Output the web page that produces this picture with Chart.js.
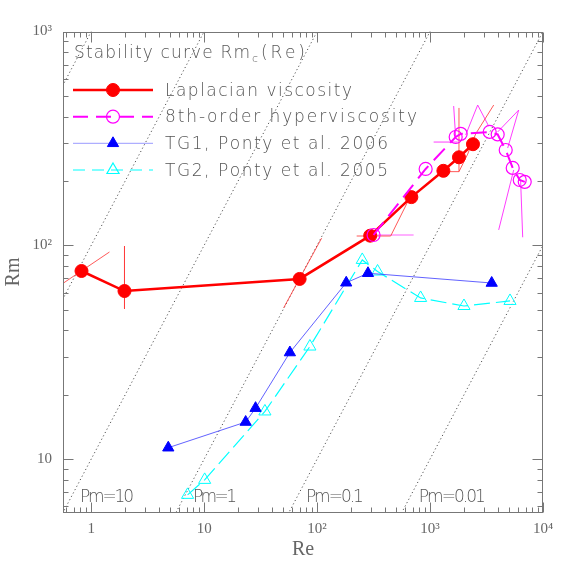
<!DOCTYPE html>
<html><head><meta charset="utf-8">
<script src="https://cdn.jsdelivr.net/npm/chart.js@4.4.1/dist/chart.umd.min.js"></script>
<style>html,body{margin:0;padding:0;background:#fff}#wrap{width:574px;height:574px}</style>
</head><body><div id="wrap"><canvas id="c" width="574" height="574"></canvas></div>
<script>
// ---- data ----
const lapRe = [0.82, 1.97, 70, 295, 683, 1312, 1803, 2399];
const lapRm = [75.8, 61.1, 69.6, 110.9, 168, 223, 258, 297];

const hypRe = [316, 914, 1686, 1867, 3373, 3969, 4676, 5393, 6222, 6890];
const hypRm = [111.7, 227.5, 321, 332, 339, 330, 279, 230, 202, 198];

const tg1Re = [4.81, 23.3, 28.5, 57.4, 181, 282, 3513];
const tg1Rm = [11.3, 14.9, 17.3, 31.5, 66.8, 74, 66.6];

const tg2Re = [7.13, 10.1, 34.5, 86.3, 251, 343, 825, 1997, 5103];
const tg2Rm = [6.8, 7.99, 16.7, 33.6, 85.4, 75.4, 56.7, 52, 54.9];

// error / uncertainty strokes (Re, Rm paths)
const lapErrRe = [[0.568, 1.45], [1.97, 1.97], [50.5, 109.6], [224, 448, 646], [1312, 1803, 2153, 2535, 3661], [1803, 1803]];
const lapErrRm = [[66.6, 93.0], [99.2, 50.4], [50.9, 108], [110.5, 110.5, 163], [221, 221, 267, 332, 453], [221, 439]];
const hypErrRe = [[1618, 1685], [1076, 1756], [2067, 2640, 3304], [6093, 3969], [6093, 4868], [4051, 5502], [6610, 6334]];
const hypErrRm = [[448, 321], [304, 304], [328, 453, 361], [429, 339], [429, 285], [118, 225], [109, 202]];
const hypBarRe = [316.5, 715];
const hypBarRm = [111.7, 111.7];

const pmValues = [1000, 100, 10, 1, 0.1, 0.01];
const pmLabelValues = [10, 1, 0.1, 0.01];
const pmLabelTexts = ['Pm=10', 'Pm=1', 'Pm=0.1', 'Pm=0.01'];

const xTickValues = [1, 10, 100, 1000, 10000];
const xTickLabels = ['1', '10', '10²', '10³', '10⁴'];
const yTickValues = [10, 100, 1000];
const yTickLabels = ['10', '10²', '10³'];

const seriesNames = ['Laplacian viscosity', '8th-order hyperviscosity', 'TG1, Ponty et al. 2006', 'TG2, Ponty et al. 2005'];
const titleMain = 'Stability curve Rm';
const titleSub = 'c';
const titleTail = '(Re)';

const X_MIN = Math.pow(10, -0.25), X_MAX = 1e4;
const Y_MIN = Math.pow(10, 0.75), Y_MAX = 1e3;

// ---- build datasets ----
const pts = (xs, ys) => xs.map((v, i) => ({x: v, y: ys[i]}));
const datasets = [];

pmValues.forEach(pm => {
  datasets.push({data: [{x: 0.01, y: pm * 0.01}, {x: 1e5, y: pm * 1e5}], showLine: true,
    borderColor: '#555', borderWidth: 1, borderDash: [1.2, 2.6], pointRadius: 0, order: 10});
});
lapErrRe.forEach((xs, i) => datasets.push({data: pts(xs, lapErrRm[i]), showLine: true,
  borderColor: 'rgba(255,60,60,0.85)', borderWidth: 1, pointRadius: 0, order: 8}));
hypErrRe.forEach((xs, i) => datasets.push({data: pts(xs, hypErrRm[i]), showLine: true,
  borderColor: 'rgba(255,40,255,0.9)', borderWidth: 1, pointRadius: 0, order: 8}));
datasets.push({data: pts(hypBarRe, hypBarRm), showLine: true, borderColor: '#ffb0ff', borderWidth: 2, pointRadius: 0, order: 9});

datasets.push({label: seriesNames[3], data: pts(tg2Re, tg2Rm), showLine: true, borderColor: '#00ffff', borderWidth: 1.2,
  borderDash: [16, 6], pointStyle: 'triangle', pointRadius: 7, pointBackgroundColor: 'rgba(0,0,0,0)',
  pointBorderColor: '#00ffff', pointBorderWidth: 1, order: 5});
datasets.push({label: seriesNames[2], data: pts(tg1Re, tg1Rm), showLine: true, borderColor: 'rgba(70,70,255,0.85)', borderWidth: 1,
  pointStyle: 'triangle', pointRadius: 6.5, pointBackgroundColor: '#0000ff', pointBorderColor: '#0000ff', pointBorderWidth: 1, order: 4});
datasets.push({label: seriesNames[0], data: pts(lapRe, lapRm), showLine: true, borderColor: '#ff0000', borderWidth: 2.5,
  pointStyle: 'circle', pointRadius: 6.5, pointBackgroundColor: '#ff0000', pointBorderColor: '#ff0000', pointBorderWidth: 1, order: 2});
datasets.push({label: seriesNames[1], data: pts(hypRe, hypRm), showLine: true, borderColor: '#ff00ff', borderWidth: 2,
  borderDash: [16, 8], pointStyle: 'circle', pointRadius: 6.5, pointBackgroundColor: 'rgba(0,0,0,0)',
  pointBorderColor: '#ff00ff', pointBorderWidth: 1.2, order: 1});

// ---- helpers ----
const TXT_FONT = '300 17px "DejaVu Sans", "Liberation Sans", sans-serif';
const TXT_COLOR = '#555';
function spacedText(ctx, str, x, y, width) {
  const chars = [...str];
  const w = chars.map(c => ctx.measureText(c).width);
  const total = w.reduce((a, b) => a + b, 0);
  const extra = chars.length > 1 ? (width - total) / (chars.length - 1) : 0;
  let cx = x;
  chars.forEach((c, i) => { ctx.fillText(c, cx, y); cx += w[i] + extra; });
}
function marker(ctx, style, x, y, r, fill, color, lw) {
  ctx.beginPath();
  if (style === 'circle') ctx.arc(x, y, r, 0, Math.PI * 2);
  else {
    for (let k = 0; k < 3; k++) {
      const a = k * 2 * Math.PI / 3;
      const px = x + Math.sin(a) * r, py = y - Math.cos(a) * r;
      k ? ctx.lineTo(px, py) : ctx.moveTo(px, py);
    }
    ctx.closePath();
  }
  ctx.lineWidth = lw; ctx.strokeStyle = color;
  if (fill) { ctx.fillStyle = color; ctx.fill(); }
  ctx.stroke();
}

const decorPlugin = {
  id: 'decor',
  afterDatasetsDraw(chart) {
    const {ctx, chartArea: {left, right, top, bottom}, scales: {x, y}} = chart;
    ctx.save();
    ctx.strokeStyle = '#777'; ctx.lineWidth = 1;
    const L = Math.round(left) + 0.5, R = Math.round(right) - 0.5, T = Math.round(top) + 0.5, B = Math.round(bottom) - 0.5;
    ctx.strokeRect(L, T, R - L, B - T);
    ctx.beginPath();
    for (let d = -1; d <= 4; d++) for (let k = 1; k <= 9; k++) {
      const v = k * Math.pow(10, d);
      if (v < X_MIN * 0.999 || v > X_MAX * 1.001) continue;
      const px = Math.round(x.getPixelForValue(v)) + 0.5, len = k === 1 ? 10 : 5;
      ctx.moveTo(px, B); ctx.lineTo(px, B - len);
      ctx.moveTo(px, T); ctx.lineTo(px, T + len);
    }
    for (let d = 0; d <= 3; d++) for (let k = 1; k <= 9; k++) {
      const v = k * Math.pow(10, d);
      if (v < Y_MIN * 0.999 || v > Y_MAX * 1.001) continue;
      const py = Math.round(y.getPixelForValue(v)) + 0.5, len = k === 1 ? 10 : 5;
      ctx.moveTo(L, py); ctx.lineTo(L + len, py);
      ctx.moveTo(R, py); ctx.lineTo(R - len, py);
    }
    ctx.stroke();

    // text: title, legend, Pm labels
    ctx.fillStyle = TXT_COLOR;
    ctx.textBaseline = 'alphabetic'; ctx.textAlign = 'left';
    ctx.font = TXT_FONT;
    spacedText(ctx, titleMain, 74, 58, 176);
    ctx.font = '300 11px "DejaVu Sans"';
    ctx.fillText(titleSub, 252, 62);
    ctx.font = TXT_FONT;
    spacedText(ctx, titleTail, 261, 58, 44);

    const rows = [
      {c: '#ff0000', lw: 2.5, dash: [], st: 'circle', fill: true, r: 6.5, w: 187},
      {c: '#ff00ff', lw: 2, dash: [15, 8], st: 'circle', fill: false, r: 6.5, w: 252},
      {c: '#9a9aff', lw: 1, dash: [], st: 'triangle', fill: true, r: 6.5, mc: '#0000ff', w: 223},
      {c: '#00ffff', lw: 1, dash: [12, 7], st: 'triangle', fill: false, r: 7, w: 223}
    ];
    const rowY = [90, 116.7, 143.3, 170];
    rows.forEach((s, i) => {
      const yy = rowY[i];
      ctx.save();
      ctx.strokeStyle = s.c; ctx.lineWidth = s.lw; ctx.setLineDash(s.dash);
      ctx.beginPath(); ctx.moveTo(73, yy); ctx.lineTo(153, yy); ctx.stroke();
      ctx.setLineDash([]);
      if (!s.fill) { ctx.fillStyle = '#fff'; ctx.beginPath(); ctx.arc(113, yy, s.r - 1, 0, Math.PI * 2); }
      marker(ctx, s.st, 113, yy, s.r, s.fill, s.mc || s.c, s.fill ? 1 : 1.2);
      ctx.restore();
      ctx.fillStyle = TXT_COLOR; ctx.font = TXT_FONT;
      spacedText(ctx, seriesNames[i], 165, yy + 5.5, s.w);
    });

    const pmW = [54, 44, 58, 67];
    pmLabelValues.forEach((pm, i) => {
      const px = x.getPixelForValue(Y_MIN / pm) + 17;
      spacedText(ctx, pmLabelTexts[i], px, 502, pmW[i]);
    });
    ctx.restore();
  }
};

new Chart(document.getElementById('c'), {
  type: 'scatter',
  data: {datasets},
  plugins: [decorPlugin],
  options: {
    responsive: false, animation: false, devicePixelRatio: 1,
    layout: {padding: {top: 31.5, right: 31, left: 0, bottom: 0}},
    plugins: {legend: {display: false}, tooltip: {enabled: false}},
    elements: {line: {tension: 0}},
    scales: {
      x: {
        type: 'logarithmic', min: X_MIN, max: X_MAX,
        afterBuildTicks: s => { s.ticks = xTickValues.map(v => ({value: v, major: true})); },
        afterFit: s => { s.height = 61.5; },
        ticks: {autoSkip: false, maxRotation: 0, minRotation: 0, padding: 8, color: '#666',
          font: {family: '"Liberation Serif"', size: 15}, callback: (v, i) => xTickLabels[i]},
        grid: {display: false, drawTicks: false}, border: {display: false},
        title: {display: true, text: 'Re', color: '#666', font: {family: '"Liberation Serif"', size: 20}, padding: {top: 0, bottom: 12}}
      },
      y: {
        type: 'logarithmic', min: Y_MIN, max: Y_MAX,
        afterBuildTicks: s => { s.ticks = yTickValues.map(v => ({value: v, major: true})); },
        afterFit: s => { s.width = 63; },
        ticks: {autoSkip: false, padding: 11, color: '#666',
          font: {family: '"Liberation Serif"', size: 15}, callback: (v, i) => yTickLabels[i]},
        grid: {display: false, drawTicks: false}, border: {display: false},
        title: {display: true, text: 'Rm', color: '#666', font: {family: '"Liberation Serif"', size: 20}, padding: {top: 2, bottom: 0}}
      }
    }
  }
});
</script></body></html>
